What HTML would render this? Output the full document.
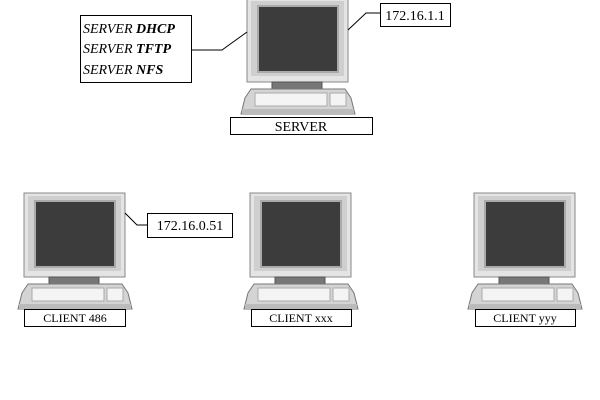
<!DOCTYPE html>
<html><head><style>body{margin:0;background:#fff}svg{display:block}</style></head><body>
<svg width="600" height="400" viewBox="0 0 600 400" xmlns="http://www.w3.org/2000/svg" font-family="Liberation Serif, serif">
<defs>
<g id="pc">
  <rect x="0" y="0" width="101" height="84" fill="#e4e4e4" stroke="#888" stroke-width="1"/>
  <rect x="4" y="3" width="93" height="75" fill="#cfcfcf"/>
  <rect x="11" y="8" width="80" height="66" fill="#3c3c3c" stroke="#aaa" stroke-width="2"/>
  <rect x="25" y="84" width="50" height="7" fill="#777" stroke="#555"/>
  <polygon points="-6,116 108,116 104,100 98,91 4,91 -2,100" fill="#d4d4d4" stroke="#777"/>
  <rect x="-5" y="111" width="112" height="5" fill="#bbb"/>
  <rect x="8" y="95" width="72" height="13" fill="#f4f4f4" stroke="#aaa"/>
  <rect x="83" y="95" width="16" height="13" fill="#f4f4f4" stroke="#aaa"/>
</g>
</defs>
<use href="#pc" x="247" y="-2"/>
<use href="#pc" x="24" y="193"/>
<use href="#pc" x="250" y="193"/>
<use href="#pc" x="474" y="193"/>

<rect x="230.5" y="117.5" width="142" height="17" fill="#fff" stroke="#000"/>
<text x="301" y="131" font-size="14" text-anchor="middle">SERVER</text>

<rect x="24.5" y="309.5" width="101" height="17" fill="#fff" stroke="#000"/>
<text x="75" y="322" font-size="12" text-anchor="middle">CLIENT 486</text>
<rect x="251.5" y="309.5" width="100" height="17" fill="#fff" stroke="#000"/>
<text x="301" y="322" font-size="12" text-anchor="middle">CLIENT xxx</text>
<rect x="475.5" y="309.5" width="100" height="17" fill="#fff" stroke="#000"/>
<text x="525" y="322" font-size="12" text-anchor="middle">CLIENT yyy</text>

<rect x="380.5" y="3.5" width="70" height="23" fill="#fff" stroke="#000"/>
<text x="415" y="20" font-size="14" text-anchor="middle">172.16.1.1</text>
<polyline points="348,30 366,13 380,13" fill="none" stroke="#000"/>

<rect x="80.5" y="15.5" width="111" height="67" fill="#fff" stroke="#000"/>
<text x="83" y="33" font-size="14" font-style="italic">SERVER <tspan font-weight="bold">DHCP</tspan></text>
<text x="83" y="53" font-size="14" font-style="italic">SERVER <tspan font-weight="bold">TFTP</tspan></text>
<text x="83" y="74" font-size="14" font-style="italic">SERVER <tspan font-weight="bold">NFS</tspan></text>
<polyline points="192,50 222,50 247,32" fill="none" stroke="#000"/>

<rect x="147.5" y="213.5" width="85" height="24" fill="#fff" stroke="#000"/>
<text x="190" y="230" font-size="14" text-anchor="middle">172.16.0.51</text>
<polyline points="125,213 137,225 147,225" fill="none" stroke="#000"/>
</svg>
</body></html>
